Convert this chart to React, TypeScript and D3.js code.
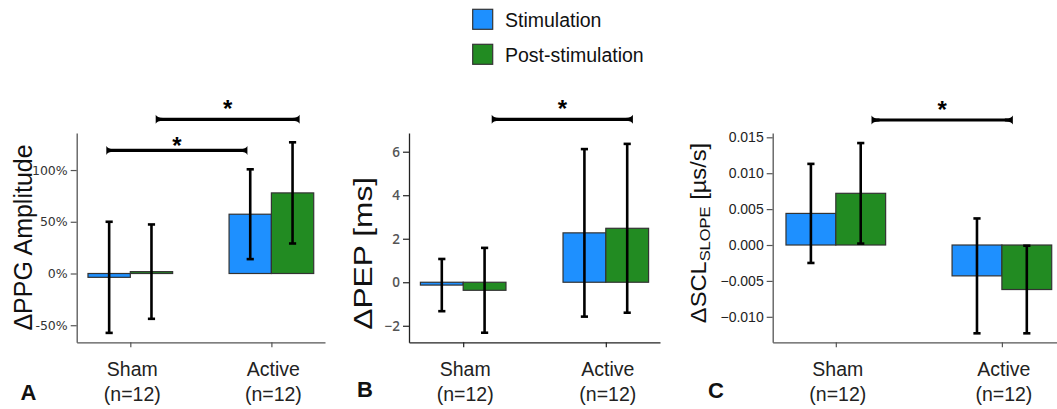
import { useEffect, useRef } from "react";
import * as d3 from "d3";

// categories and series
const groups = ["Sham", "Active"];
const groupN = ["(n=12)", "(n=12)"];
const seriesNames = ["Stimulation", "Post-stimulation"];
const seriesColors = ["#1e90ff", "#228b22"];

// A: PPG amplitude change (%)
const ppgStim = [-3.7, 57.3];
const ppgStimErr = [53.7, 43.4];
const ppgPost = [1.8, 77.9];
const ppgPostErr = [45.6, 48.9];
const ppgTicks = [-50, 0, 50, 100];

// B: PEP change (ms)
const pepStim = [-0.13, 2.27];
const pepStimErr = [1.2, 3.85];
const pepPost = [-0.37, 2.48];
const pepPostErr = [1.95, 3.88];
const pepTicks = [-2, 0, 2, 4, 6];

// C: SCL slope change (µs/s)
const sclStim = [0.0044, -0.0043];
const sclStimErr = [0.0069, 0.008];
const sclPost = [0.0072, -0.0062];
const sclPostErr = [0.007, 0.0061];
const sclTicks = [-0.01, -0.005, 0, 0.005, 0.01, 0.015];

// significance brackets (x in group units, y in data units)
const ppgBrackets = [
  { from: -0.17, to: 0.83, y: 119, star: 129 },
  { from: 0.18, to: 1.2, y: 149, star: 164.5 },
];
const pepBrackets = [{ from: 0.2, to: 1.19, y: 7.49, star: 8.22 }];
const sclBrackets = [{ from: 0.215, to: 1.066, y: 0.01741, star: 0.01964 }];

const panels = [
  {
    letter: "A",
    letterX: 20.5,
    letterY: 400,
    xRange: [76.7, 325],
    yDomain: [-66.5, 135.8],
    means: [ppgStim, ppgPost],
    errs: [ppgStimErr, ppgPostErr],
    ticks: ppgTicks,
    fmt: (d: number) => `${d}%`,
    tickFont: "DejaVu Sans",
    tickSize: "12.5px",
    tickWeight: "normal",
    tickColor: "#333",
    axisColor: "#555",
    brackets: ppgBrackets,
  },
  {
    letter: "B",
    letterX: 357,
    letterY: 397,
    xRange: [409, 660],
    yDomain: [-2.76, 6.86],
    means: [pepStim, pepPost],
    errs: [pepStimErr, pepPostErr],
    ticks: pepTicks,
    fmt: (d: number) => (d < 0 ? `\u2212${-d}` : `${d}`),
    tickFont: "Open Sans",
    tickSize: "13.5px",
    tickWeight: "600",
    tickColor: "#555",
    axisColor: "#222",
    brackets: pepBrackets,
  },
  {
    letter: "C",
    letterX: 708,
    letterY: 398,
    xRange: [772.7, 1065],
    yDomain: [-0.01355, 0.0156],
    means: [sclStim, sclPost],
    errs: [sclStimErr, sclPostErr],
    ticks: sclTicks,
    fmt: d3.format(".3f"),
    tickFont: "Liberation Sans",
    tickSize: "14px",
    tickWeight: "normal",
    tickColor: "#222",
    axisColor: "#555",
    brackets: sclBrackets,
  },
];

const font = "Liberation Sans, Arial, sans-serif";

function App() {
  const ref = useRef<SVGSVGElement>(null);

  useEffect(() => {
    const svg = d3.select(ref.current);
    svg.selectAll("*").remove();

    const barWidth = 0.3;

    panels.forEach((p) => {
      const x = d3.scaleLinear().domain([-0.38, 1.38]).range(p.xRange);
      const y = d3.scaleLinear().domain(p.yDomain).range([342.3, 133]);
      const g = svg.append("g");

      // bars
      p.means.forEach((vals, s) => {
        vals.forEach((v, i) => {
          const x0 = s === 0 ? x(i - barWidth) : x(i);
          g.append("rect")
            .attr("x", x0)
            .attr("width", x(barWidth) - x(0))
            .attr("y", Math.min(y(v), y(0)))
            .attr("height", Math.abs(y(v) - y(0)))
            .attr("fill", seriesColors[s])
            .attr("stroke", "#333")
            .attr("stroke-width", 1.2);
        });
      });

      // error bars
      p.means.forEach((vals, s) => {
        vals.forEach((v, i) => {
          const cx = x(i + (s === 0 ? -barWidth / 2 : barWidth / 2));
          const e = p.errs[s][i];
          const lo = y(v - e);
          const hi = y(v + e);
          g.append("line")
            .attr("x1", cx)
            .attr("x2", cx)
            .attr("y1", lo)
            .attr("y2", hi)
            .attr("stroke", "#000")
            .attr("stroke-width", 2.6);
          [lo, hi].forEach((yy) => {
            g.append("line")
              .attr("x1", cx - 3.6)
              .attr("x2", cx + 3.6)
              .attr("y1", yy)
              .attr("y2", yy)
              .attr("stroke", "#000")
              .attr("stroke-width", 2.6);
          });
        });
      });

      // y axis
      const yAxis = g
        .append("g")
        .attr("transform", `translate(${p.xRange[0]},0)`)
        .call(
          d3
            .axisLeft(y)
            .tickValues(p.ticks)
            .tickFormat(p.fmt as any)
            .tickSize(6)
            .tickSizeOuter(0)
            .tickPadding(3)
        );
      yAxis.select(".domain").attr("stroke", p.axisColor).attr("stroke-width", 1.3);
      yAxis.selectAll(".tick line").attr("stroke", p.axisColor).attr("stroke-width", 1.2);
      yAxis
        .selectAll(".tick text")
        .attr("fill", p.tickColor)
        .attr("font-family", p.tickFont)
        .attr("font-size", p.tickSize)
        .attr("font-weight", p.tickWeight);

      // x axis
      const xAxis = g
        .append("g")
        .attr("transform", `translate(0,342.3)`)
        .call(
          d3
            .axisBottom(x)
            .tickValues([0, 1])
            .tickFormat(() => "")
            .tickSize(5)
            .tickSizeOuter(0)
        );
      xAxis.select(".domain").attr("stroke", p.axisColor).attr("stroke-width", 1.3);
      xAxis.selectAll(".tick line").attr("stroke", p.axisColor).attr("stroke-width", 1.2);

      // group labels
      groups.forEach((name, i) => {
        g.append("text")
          .attr("x", x(i) + 2)
          .attr("y", 376)
          .attr("text-anchor", "middle")
          .attr("font-family", font)
          .attr("font-size", "19.5px")
          .attr("fill", "#222")
          .text(name);
        g.append("text")
          .attr("x", x(i) + 2)
          .attr("y", 400.5)
          .attr("text-anchor", "middle")
          .attr("font-family", font)
          .attr("font-size", "19.5px")
          .attr("fill", "#222")
          .text(groupN[i]);
      });

      // significance brackets
      p.brackets.forEach((b) => {
        const x1 = x(b.from);
        const x2 = x(b.to);
        const yy = y(b.y);
        g.append("line")
          .attr("x1", x1 + 2)
          .attr("x2", x2 - 2)
          .attr("y1", yy)
          .attr("y2", yy)
          .attr("stroke", "#000")
          .attr("stroke-width", 3.2);
        g.append("path")
          .attr(
            "d",
            `M${x1},${yy - 4.5} Q${x1 + 1.5},${yy - 1.2} ${x1 + 8},${yy - 1.4} L${x1 + 8},${yy + 1.4} Q${x1 + 1.5},${yy + 1.2} ${x1},${yy + 4.5} Z`
          )
          .attr("fill", "#000");
        g.append("path")
          .attr(
            "d",
            `M${x2},${yy - 4.5} Q${x2 - 1.5},${yy - 1.2} ${x2 - 8},${yy - 1.4} L${x2 - 8},${yy + 1.4} Q${x2 - 1.5},${yy + 1.2} ${x2},${yy + 4.5} Z`
          )
          .attr("fill", "#000");
        g.append("text")
          .attr("x", (x1 + x2) / 2)
          .attr("y", y(b.star) + 14)
          .attr("text-anchor", "middle")
          .attr("font-family", font)
          .attr("font-weight", "bold")
          .attr("font-size", "24px")
          .attr("fill", "#000")
          .text("*");
      });

      // panel letter
      svg
        .append("text")
        .attr("x", p.letterX)
        .attr("y", p.letterY)
        .attr("font-family", font)
        .attr("font-weight", "bold")
        .attr("font-size", "22px")
        .attr("fill", "#111")
        .text(p.letter);
    });

    // y axis titles
    svg
      .append("text")
      .attr("transform", "translate(32,237.5) rotate(-90)")
      .attr("text-anchor", "middle")
      .attr("font-family", font)
      .attr("font-size", "25px")
      .attr("fill", "#111")
      .text("\u0394PPG Amplitude");

    svg
      .append("text")
      .attr("transform", "translate(372,253.3) rotate(-90)")
      .attr("text-anchor", "middle")
      .attr("font-family", font)
      .attr("font-size", "25px")
      .attr("textLength", 153)
      .attr("lengthAdjust", "spacingAndGlyphs")
      .attr("fill", "#111")
      .text("\u0394PEP [ms]");

    const scl = svg
      .append("text")
      .attr("transform", "translate(706,233) rotate(-90) scale(1.1,1)")
      .attr("text-anchor", "middle")
      .attr("font-family", font)
      .attr("font-size", "21.5px")
      .attr("fill", "#111");
    scl.append("tspan").text("\u0394SCL");
    scl.append("tspan").attr("font-size", "15px").attr("dy", 4).text("SLOPE");
    scl.append("tspan").attr("dy", -4).text(" [\u00b5s/s]");

    // legend
    seriesNames.forEach((name, i) => {
      svg
        .append("rect")
        .attr("x", 472.7)
        .attr("y", 9.3 + i * 35)
        .attr("width", 20)
        .attr("height", 20)
        .attr("fill", seriesColors[i])
        .attr("stroke", "#333")
        .attr("stroke-width", 1.2);
      svg
        .append("text")
        .attr("x", 505)
        .attr("y", 26.8 + i * 35)
        .attr("font-family", font)
        .attr("font-size", "19.5px")
        .attr("fill", "#111")
        .text(name);
    });
  }, []);

  return (
    <svg
      ref={ref}
      width={1057}
      height={409}
      style={{ position: "absolute", left: 0, top: 0, background: "#fff" }}
    ></svg>
  );
}

export default App;
